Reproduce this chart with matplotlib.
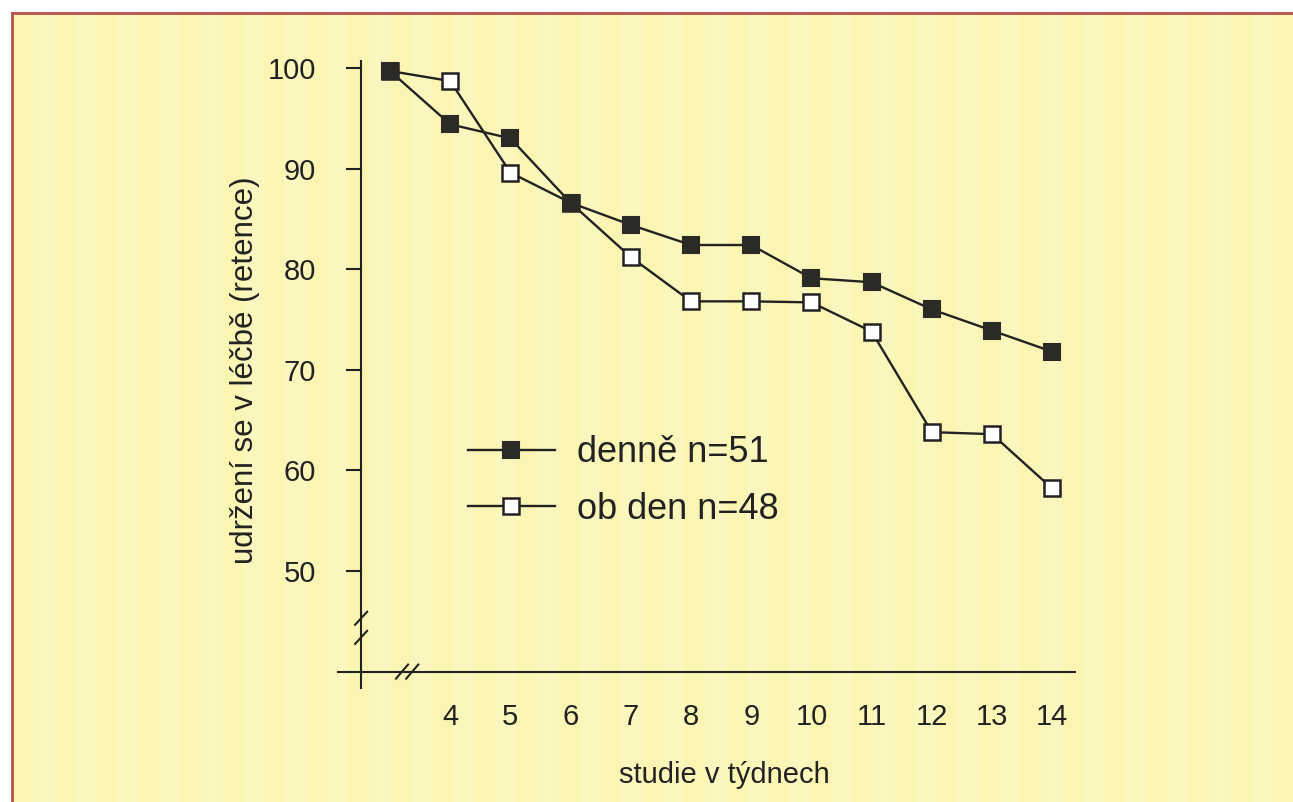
import matplotlib
matplotlib.use("Agg")
import matplotlib.pyplot as plt
from matplotlib.patches import Rectangle
from matplotlib.lines import Line2D

plt.rcParams['font.family'] = ['Liberation Sans', 'DejaVu Sans']

weeks = [3, 4, 5, 6, 7, 8, 9, 10, 11, 12, 13, 14]
x_tick_labels = ['4', '5', '6', '7', '8', '9', '10', '11', '12', '13', '14']
x_ticks = [4, 5, 6, 7, 8, 9, 10, 11, 12, 13, 14]
y_ticks = [50, 60, 70, 80, 90, 100]

denne = [99.7, 94.4, 93.0, 86.6, 84.4, 82.4, 82.4, 79.1, 78.7, 76.0, 73.9, 71.8]
ob_den = [99.7, 98.7, 89.6, 86.6, 81.2, 76.8, 76.8, 76.7, 73.8, 63.8, 63.6, 58.2]

label_denne = 'denně n=51'
label_ob_den = 'ob den n=48'

W, H = 1293, 802
fig = plt.figure(figsize=(W / 100, H / 100), dpi=100)
fig.patch.set_facecolor('white')

# background panel with subtle vertical stripes
base = '#FBF5B4'
light = '#FDFAD0'
fig.patches.append(Rectangle((12 / W, 0), 1, 1 - 13 / H, transform=fig.transFigure,
                             facecolor=base, edgecolor='none', zorder=-10))
px = 12
i = 0
while px < W:
    if i % 2 == 1:
        fig.patches.append(Rectangle((px / W, 0), 21 / W, 1 - 13 / H, transform=fig.transFigure,
                                     facecolor=light, edgecolor='none', alpha=0.35, zorder=-9))
    px += 21
    i += 1
# red border (left and top)
fig.add_artist(Line2D([12 / W, 12 / W], [0, 1 - 13 / H], transform=fig.transFigure,
                      color='#B8524A', lw=2))
fig.add_artist(Line2D([12 / W, 1], [1 - 13 / H, 1 - 13 / H], transform=fig.transFigure,
                      color='#B8524A', lw=2))

# axes placement (pixel mapping)
x0, x1 = 2.0, 14.5
y0, y1 = 38, 101
left = 329.8 / W
width = (1082.3 - 329.8) / W
bottom = (H - 691.7) / H
top = (H - 57.9) / H
ax = fig.add_axes([left, bottom, width, top - bottom])
ax.set_xlim(x0, x1)
ax.set_ylim(y0, y1)
ax.patch.set_alpha(0)
for s in ax.spines.values():
    s.set_visible(False)

ink = '#222222'
# axis lines (with overhang)
ax.plot([2.14, 14.38], [40, 40], color=ink, lw=1.5, clip_on=False, zorder=2)
ax.plot([2.52, 2.52], [38.4, 100.7], color=ink, lw=1.5, clip_on=False, zorder=2)
# break marks
for yb in [45.3, 43.4]:
    ax.plot([2.52 - 0.1, 2.52 + 0.1], [yb - 0.65, yb + 0.65], color=ink, lw=1.5, clip_on=False, zorder=3)
for xb in [3.20, 3.37]:
    ax.plot([xb - 0.1, xb + 0.1], [40 - 0.7, 40 + 0.7], color=ink, lw=1.5, clip_on=False, zorder=3)

ax.set_yticks(y_ticks)
ax.set_yticklabels([str(v) for v in y_ticks])
ax.set_xticks(x_ticks)
ax.set_xticklabels(x_tick_labels)
ax.tick_params(axis='y', length=0, pad=10, labelsize=21, labelcolor=ink)
ax.tick_params(axis='x', length=0, pad=8, labelsize=21, labelcolor=ink)
for yv in y_ticks:
    ax.plot([2.52 - 0.23, 2.52], [yv, yv], color=ink, lw=1.5, clip_on=False)

ax.plot(weeks, ob_den, color=ink, lw=1.7, marker='s', markersize=11,
        markerfacecolor='white', markeredgecolor=ink, markeredgewidth=1.8,
        label=label_ob_den, zorder=4)
ax.plot(weeks, denne, color=ink, lw=1.7, marker='s', markersize=11,
        markerfacecolor='#2b2a24', markeredgecolor='#2b2a24', markeredgewidth=1.5,
        label=label_denne, zorder=5)

h, l = ax.get_legend_handles_labels()
leg = ax.legend([h[1], h[0]], [l[1], l[0]], loc='center left',
                bbox_to_anchor=(468 / W, 1 - 481 / H), bbox_transform=fig.transFigure,
                frameon=False, fontsize=26, handlelength=2.4, handletextpad=0.62,
                labelspacing=0.6, borderpad=0, borderaxespad=0, numpoints=1,
                markerscale=1.1)
for t in leg.get_texts():
    t.set_color(ink)

fig.text(245 / W, 1 - 370 / H, 'udržení se v léčbě (retence)', rotation=90,
         ha='center', va='center', fontsize=22.5, color=ink)
fig.text(724 / W, 1 - 775 / H, 'studie v týdnech', ha='center', va='center',
         fontsize=21, color=ink)

fig.savefig('out.png', dpi=100)
